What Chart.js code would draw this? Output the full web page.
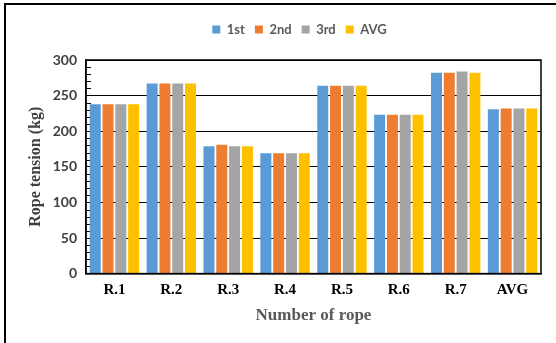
<!DOCTYPE html>
<html>
<head>
<meta charset="utf-8">
<script src="https://cdn.jsdelivr.net/npm/chart.js@4/dist/chart.umd.min.js"></script>
<style>
html,body{margin:0;padding:0;background:#fff;}
#wrap{width:556px;height:343px;position:relative;}
</style>
</head>
<body>
<div id="wrap"><canvas id="c" width="556" height="343"></canvas></div>
<script>
const categories = ["R.1","R.2","R.3","R.4","R.5","R.6","R.7","AVG"];
const seriesNames = ["1st","2nd","3rd","AVG"];
const first  = [238, 267, 179, 169, 264, 223, 282, 231];
const second = [238, 267, 181, 169, 264, 223, 282, 232];
const third  = [238, 267, 179, 169, 264, 223, 284, 232];
const avg    = [238, 267, 179, 169, 264, 223, 282, 232];
const colors = ["#5B9BD5","#ED7D31","#A5A5A5","#FFC000"];
const yTicks = [0,50,100,150,200,250,300];

const LEGEND_SHIFT_X = 16, LEGEND_SHIFT_Y = 14;
const decor = {
  id:'decor',
  afterLayout(chart){
    const lg = chart.legend;
    if(lg){ lg.left += LEGEND_SHIFT_X; lg.right += LEGEND_SHIFT_X; lg.top -= LEGEND_SHIFT_Y; lg.bottom -= LEGEND_SHIFT_Y; }
  },
  beforeDatasetsDraw(chart){
    const ctx = chart.ctx, y = chart.scales.y, a = chart.chartArea;
    ctx.save();
    ctx.strokeStyle = '#000'; ctx.lineWidth = 1;
    for(let v=0; v<=300; v+=10){
      if(v%50===0) continue;
      const py = Math.round(y.getPixelForValue(v))+0.5;
      ctx.beginPath(); ctx.moveTo(a.left, py); ctx.lineTo(a.left+5, py); ctx.stroke();
    }
    ctx.restore();
  },
  afterDraw(chart){
    const ctx = chart.ctx, a = chart.chartArea;
    ctx.save();
    ctx.strokeStyle = '#000'; ctx.lineWidth = 1.5;
    ctx.strokeRect(a.left, a.top, a.right-a.left, a.bottom-a.top);
    ctx.lineWidth = 2;
    ctx.beginPath(); ctx.moveTo(5, 343); ctx.lineTo(5, 4); ctx.lineTo(556, 4); ctx.stroke();
    ctx.restore();
  }
};

new Chart(document.getElementById('c'), {
  type:'bar',
  data:{
    labels: categories,
    datasets:[first,second,third,avg].map((d,i)=>({
      label: seriesNames[i], data: d, backgroundColor: colors[i],
      categoryPercentage: 0.9, barPercentage: 0.86
    }))
  },
  options:{
    responsive:false, animation:false,
    layout:{padding:{top:27,left:26,right:15,bottom:17}},
    plugins:{
      legend:{
        position:'top',
        labels:{boxWidth:8,boxHeight:8,padding:10,color:'#595959',
          font:{family:'Lato',size:13,weight:'bold'}}
      },
      tooltip:{enabled:false}
    },
    scales:{
      x:{
        grid:{display:false},
        border:{display:true,color:'#000',width:1.5},
        ticks:{color:'#000',padding:0,font:{family:'Liberation Serif',size:15,weight:'bold'}},
        title:{display:true,text:'Number of rope',color:'#595959',padding:{top:6,bottom:0},
          font:{family:'Liberation Serif',size:17,weight:'bold'}}
      },
      y:{
        min:0,max:300,
        afterBuildTicks(s){ s.ticks = yTicks.map(v=>({value:v})); },
        afterFit(s){ s.width = 60; },
        grid:{color:'#000',lineWidth:1,drawTicks:false},
        border:{display:true,color:'#000',width:1.5},
        ticks:{color:'#404040',padding:9,font:{family:'Lato',size:14,weight:'bold'}},
        title:{display:true,text:'Rope tension (kg)',color:'#404040',padding:{top:0,bottom:4},
          font:{family:'Liberation Serif',size:16,weight:'bold'}}
      }
    }
  },
  plugins:[decor]
});
</script>
</body>
</html>
